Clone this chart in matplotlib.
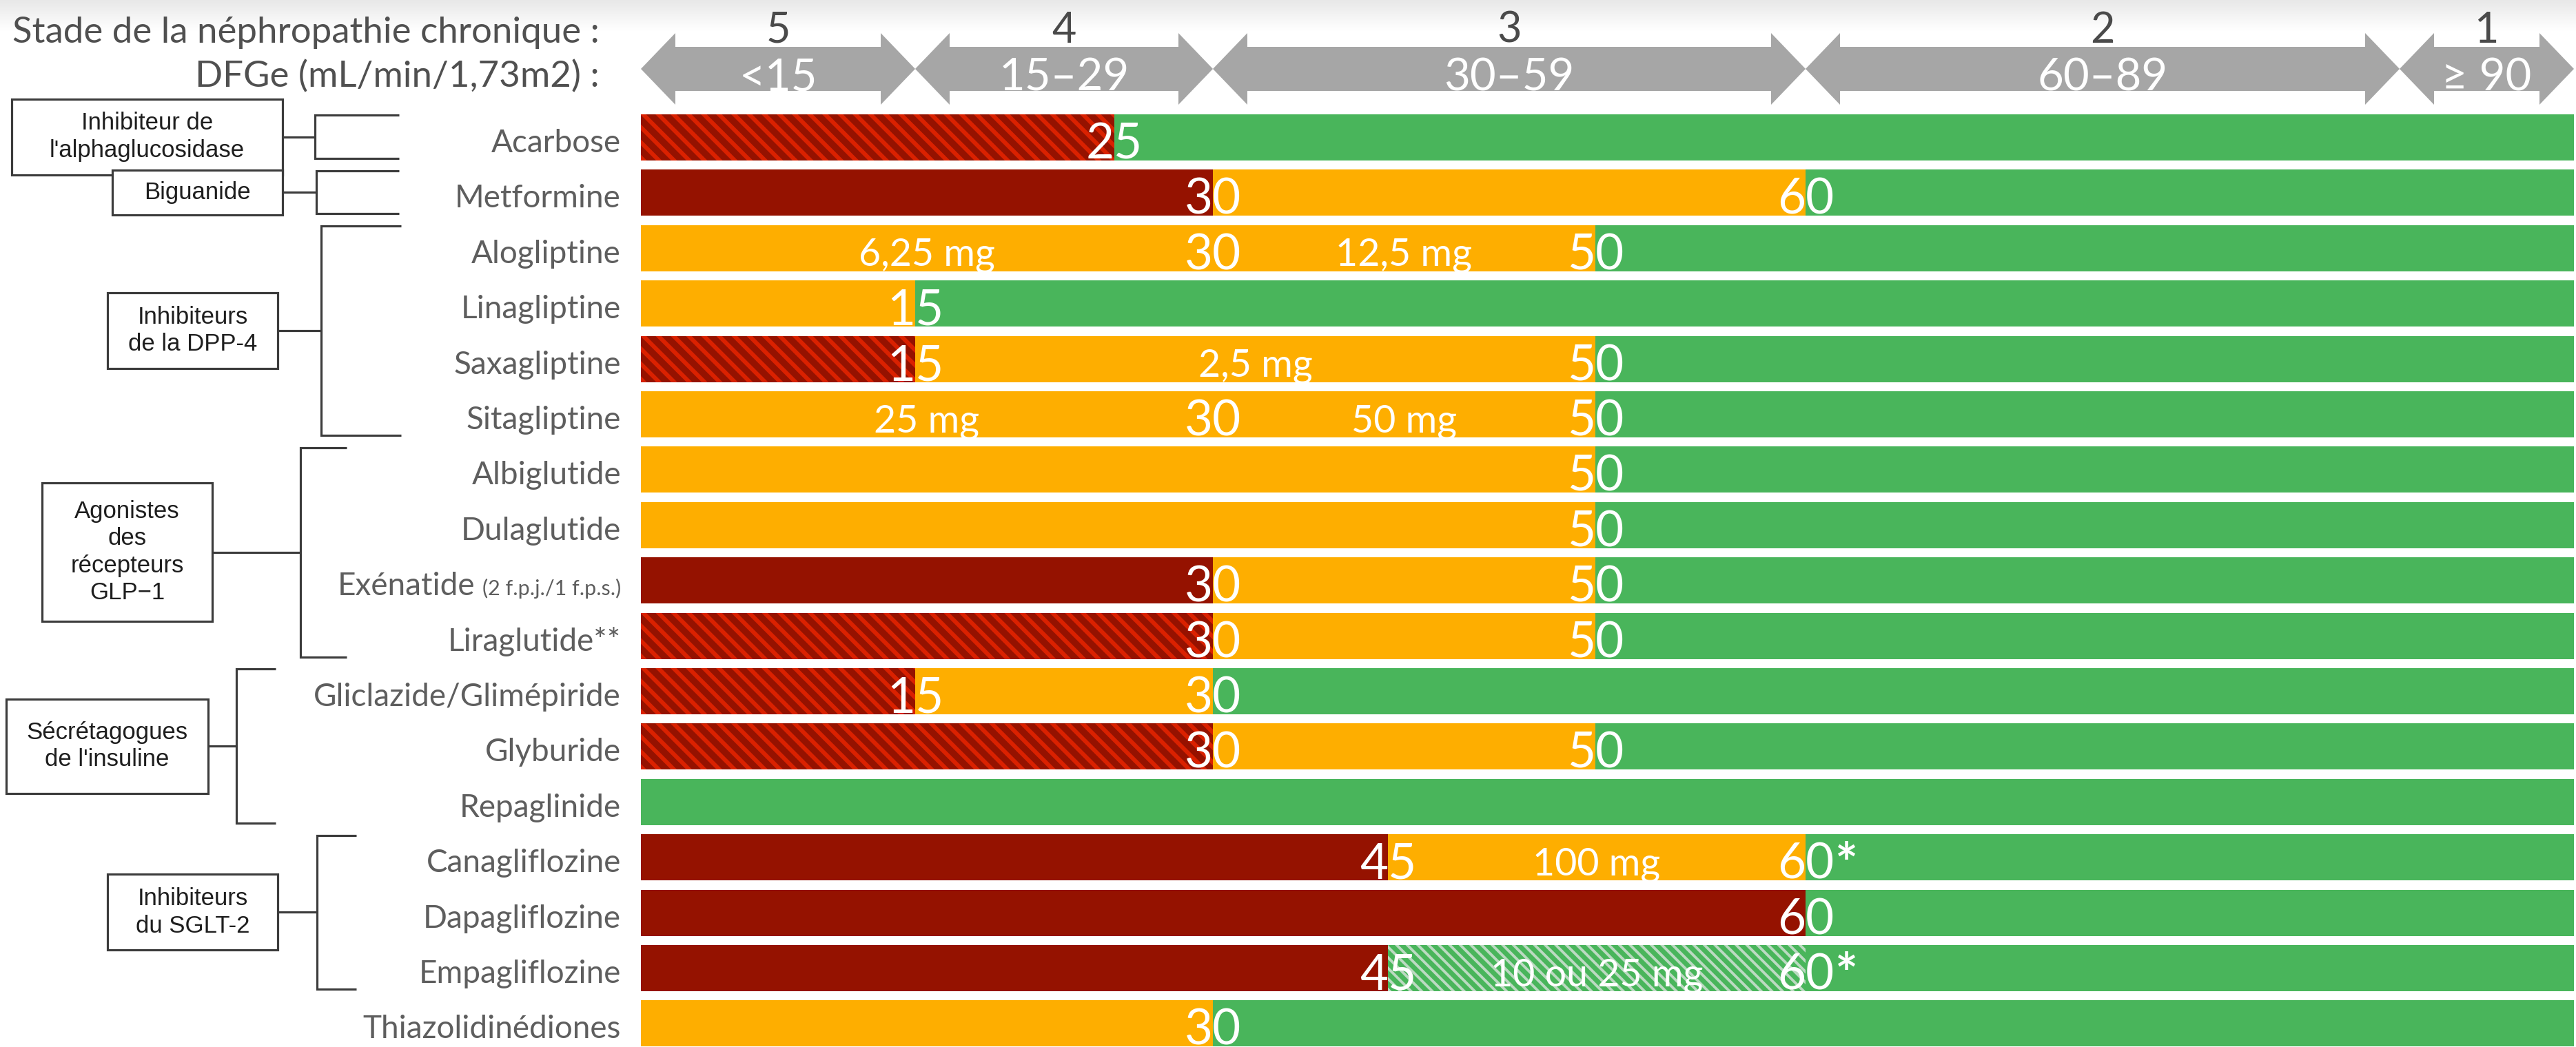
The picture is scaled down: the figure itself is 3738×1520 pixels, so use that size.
import matplotlib
matplotlib.use("Agg")
import matplotlib.pyplot as plt
import numpy as np
from matplotlib.patches import Rectangle, Polygon
from matplotlib.collections import PolyCollection
from matplotlib.transforms import IdentityTransform

W, H, DPI = 3738, 1520, 100

# schematic DFGe axis: value -> horizontal position (px)
SCALE_GFR = [0, 15, 25, 30, 45, 50, 60, 90, 120]
SCALE_POS = [930, 1328, 1617, 1760, 2014, 2315, 2620, 3482, 3735]
GFR_END = 120

STAGES = ["5", "4", "3", "2", "1"]
STAGE_RANGES = ["<15", "15–29", "30–59", "60–89", "≥ 90"]
STAGE_EDGES = [0, 15, 30, 60, 90, GFR_END]

DRUGS = ["Acarbose", "Metformine", "Alogliptine", "Linagliptine", "Saxagliptine",
         "Sitagliptine", "Albiglutide", "Dulaglutide", "Exénatide", "Liraglutide**",
         "Gliclazide/Glimépiride", "Glyburide", "Repaglinide", "Canagliflozine",
         "Dapagliflozine", "Empagliflozine", "Thiazolidinédiones"]
DRUG_NOTES = {8: "(2 f.p.j./1 f.p.s.)"}

# DFGe thresholds where the recommendation changes
CUTS = [[25], [30, 60], [30, 50], [15], [15, 50], [30, 50], [50], [50], [30, 50],
        [30, 50], [15, 30], [30, 50], [], [45, 60], [60], [45, 60], [30]]
CUT_LABELS = [["25"], ["30", "60"], ["30", "50"], ["15"], ["15", "50"], ["30", "50"],
              ["50"], ["50"], ["30", "50"], ["30", "50"], ["15", "30"], ["30", "50"],
              [], ["45", "60*"], ["60"], ["45", "60*"], ["30"]]
# one status per interval between thresholds (low -> high DFGe)
STATUS = [["stop_h", "ok"], ["stop", "reduce", "ok"], ["reduce", "reduce", "ok"],
          ["reduce", "ok"], ["stop_h", "reduce", "ok"], ["reduce", "reduce", "ok"],
          ["reduce", "ok"], ["reduce", "ok"], ["stop", "reduce", "ok"],
          ["stop_h", "reduce", "ok"], ["stop_h", "reduce", "ok"], ["stop_h", "reduce", "ok"],
          ["ok"], ["stop", "reduce", "ok"], ["stop", "ok"], ["stop", "ok_h", "ok"],
          ["reduce", "ok"]]
DOSES = [["", ""], ["", "", ""], ["6,25 mg", "12,5 mg", ""], ["", ""],
         ["", "2,5 mg", ""], ["25 mg", "50 mg", ""], ["", ""], ["", ""],
         ["", "", ""], ["", "", ""], ["", "", ""], ["", "", ""], [""],
         ["", "100 mg", ""], ["", ""], ["", "10 ou 25 mg", ""], ["", ""]]

CLASSES = ["Inhibiteur de\nl'alphaglucosidase", "Biguanide", "Inhibiteurs\nde la DPP-4",
           "Agonistes\ndes\nrécepteurs\nGLP−1", "Sécrétagogues\nde l'insuline",
           "Inhibiteurs\ndu SGLT-2"]
CLASS_ROWS = [(0, 0), (1, 1), (2, 5), (6, 9), (10, 12), (13, 15)]
# box x0, box x1, box height, bracket x, bracket arm end (px)
CLASS_LAYOUT = [(17, 410, 110, 457, 579), (163, 410, 65, 459, 579),
                (156, 403, 110, 466, 582), (61, 308, 201, 436, 503),
                (9, 302, 137, 343, 400), (156, 403, 110, 460, 517)]

COLORS = {"stop": "#951200", "stop_h": "#951200", "reduce": "#FEAE00",
          "ok": "#49B55B", "ok_h": "#49B55B"}
STRIPES = {"stop_h": ("#DA2100", 22.0, 8.5), "ok_h": ("#BCDAC2", 15.4, 5.5)}

LATO = ["Lato", "DejaVu Sans"]
ARIAL = ["Liberation Sans", "DejaVu Sans"]
GREY_TXT = "#5E5E5E"
LINE = "#3C3C3C"

ROW0_PX, PITCH_PX = 199.5, 80.4
BAR_H = 67 / PITCH_PX


def px2row(py):
    return (py - ROW0_PX) / PITCH_PX


def fwd(v):
    return np.interp(v, SCALE_GFR, SCALE_POS)


def inv(p):
    return np.interp(p, SCALE_POS, SCALE_GFR)


fig = plt.figure(figsize=(W / DPI, H / DPI), dpi=DPI)
fig.patch.set_facecolor("white")
ylim = (px2row(H), px2row(0))

lax = fig.add_axes([0, 0, 1, 1])
lax.set_xlim(0, W)
lax.set_ylim(*ylim)
lax.axis("off")

ax = fig.add_axes([SCALE_POS[0] / W, 0, (SCALE_POS[-1] - SCALE_POS[0]) / W, 1])
ax.set_xscale("function", functions=(fwd, inv))
ax.set_xlim(0, GFR_END)
ax.set_ylim(*ylim)
ax.axis("off")
ax.patch.set_visible(False)

# light haze along the top edge
grad = np.linspace(0.91, 1.0, 64)
rgb = np.dstack([np.repeat(grad[:, None], 2, 1)] * 3)
lax.imshow(rgb, extent=[0, W, px2row(45), px2row(0)], aspect="auto",
           origin="upper", zorder=0, interpolation="bilinear")
lax.set_xlim(0, W)
lax.set_ylim(*ylim)


def add_stripes(bar, color, period, width):
    (x0, y0), (x1, y1) = bar.get_window_extent().get_points()
    h = y1 - y0
    polys = []
    s = x0 - h - period
    while s < x1 + period:
        polys.append([(s, y1), (s + width, y1), (s + width + h, y0), (s + h, y0)])
        s += period
    pc = PolyCollection(polys, facecolors=color, edgecolors="none",
                        transform=IdentityTransform(), zorder=3)
    ax.add_collection(pc, autolim=False)
    pc.set_clip_path(bar.get_path(), bar.get_transform())


# header arrows (stages)
ARROW_ROW = px2row(100)
shaft, head, head_len = 32 / PITCH_PX, 52 / PITCH_PX, 50
for k in range(len(STAGES)):
    pa, pb = fwd(STAGE_EDGES[k]), fwd(STAGE_EDGES[k + 1])
    xa, xb = STAGE_EDGES[k], STAGE_EDGES[k + 1]
    xa2, xb2 = inv(pa + head_len), inv(pb - head_len)
    c = ARROW_ROW
    verts = [(xa, c), (xa2, c - head), (xa2, c - shaft), (xb2, c - shaft), (xb2, c - head),
             (xb, c), (xb2, c + head), (xb2, c + shaft), (xa2, c + shaft), (xa2, c + head)]
    ax.add_patch(Polygon(verts, closed=True, facecolor="#A6A6A6", edgecolor="none", zorder=2))
    xm = inv((pa + pb) / 2)
    ax.text(xm, c - 38 / PITCH_PX, STAGES[k], ha="center", va="baseline",
            fontsize=44, color="#4A4A4A", family=LATO)
    ax.text(xm, c + 31 / PITCH_PX, STAGE_RANGES[k], ha="center", va="baseline",
            fontsize=47, color="white", family=LATO)

lax.text(870, px2row(62), "Stade de la néphropathie chronique :", ha="right", va="baseline",
         fontsize=38, color="#505050", family=LATO)
lax.text(870, px2row(126), "DFGe (mL/min/1,73m2) :", ha="right", va="baseline",
         fontsize=38, color="#505050", family=LATO)

# bars
for r in range(len(DRUGS)):
    edges = [0] + CUTS[r] + [GFR_END]
    row_clip = Rectangle((0, r - BAR_H / 2), GFR_END, BAR_H, transform=ax.transData)
    for k, st in enumerate(STATUS[r]):
        left, right = edges[k], edges[k + 1]
        bar = ax.barh(r, right - left, left=left, height=BAR_H, color=COLORS[st],
                      linewidth=0, zorder=2)[0]
        if st in STRIPES:
            add_stripes(bar, *STRIPES[st])
        if DOSES[r][k]:
            xm = inv((fwd(left) + fwd(right)) / 2)
            t = ax.text(xm, r + 25.5 / PITCH_PX, DOSES[r][k], ha="center", va="baseline",
                        fontsize=40, color="white", family=LATO, zorder=5)
            t.set_clip_on(True)
            t.set_clip_path(row_clip.get_path(), row_clip.get_transform())
    for cut, lab in zip(CUTS[r], CUT_LABELS[r]):
        t = ax.text(cut, r + 31 / PITCH_PX, lab.rstrip("*"), ha="center", va="baseline",
                    fontsize=51, color="white", family=LATO, zorder=6)
        if lab.endswith("*"):
            ax.annotate("*", xy=(1, 1), xycoords=t, xytext=(1, 0), textcoords="offset points",
                        ha="left", va="top", fontsize=56, color="white", family=LATO,
                        fontweight="bold", zorder=6)

# drug names
renderer = fig.canvas.get_renderer()
for r, name in enumerate(DRUGS):
    y = r + 21.5 / PITCH_PX
    x = 901
    if r in DRUG_NOTES:
        note = lax.text(x, y, DRUG_NOTES[r], ha="right", va="baseline", fontsize=22,
                        color=GREY_TXT, family=LATO)
        x -= note.get_window_extent(renderer).width + 10
    lax.text(x, y, name, ha="right", va="baseline", fontsize=33,
             color=GREY_TXT, family=LATO)

# drug classes: boxes and brackets
for label, (r0, r1), (bx0, bx1, bh, kx, ax1) in zip(CLASSES, CLASS_ROWS, CLASS_LAYOUT):
    ytop, ybot = r0 - 0.40, r1 + 0.38
    ymid = (ytop + ybot) / 2
    lax.plot([ax1, kx, kx, ax1], [ytop, ytop, ybot, ybot], color=LINE, lw=2.3,
             solid_joinstyle="miter", solid_capstyle="butt", zorder=2)
    lax.plot([bx1, kx], [ymid, ymid], color=LINE, lw=2.3, solid_capstyle="butt", zorder=2)
    hh = bh / PITCH_PX
    lax.add_patch(Rectangle((bx0, ymid - hh / 2), bx1 - bx0, hh, facecolor="white",
                            edgecolor=LINE, lw=2.3, zorder=3))
    lax.text((bx0 + bx1) / 2, ymid, label, ha="center", va="center", fontsize=25,
             family=ARIAL, color="#1E1E1E", linespacing=1.25, zorder=4)

fig.savefig("out.png", dpi=DPI)
